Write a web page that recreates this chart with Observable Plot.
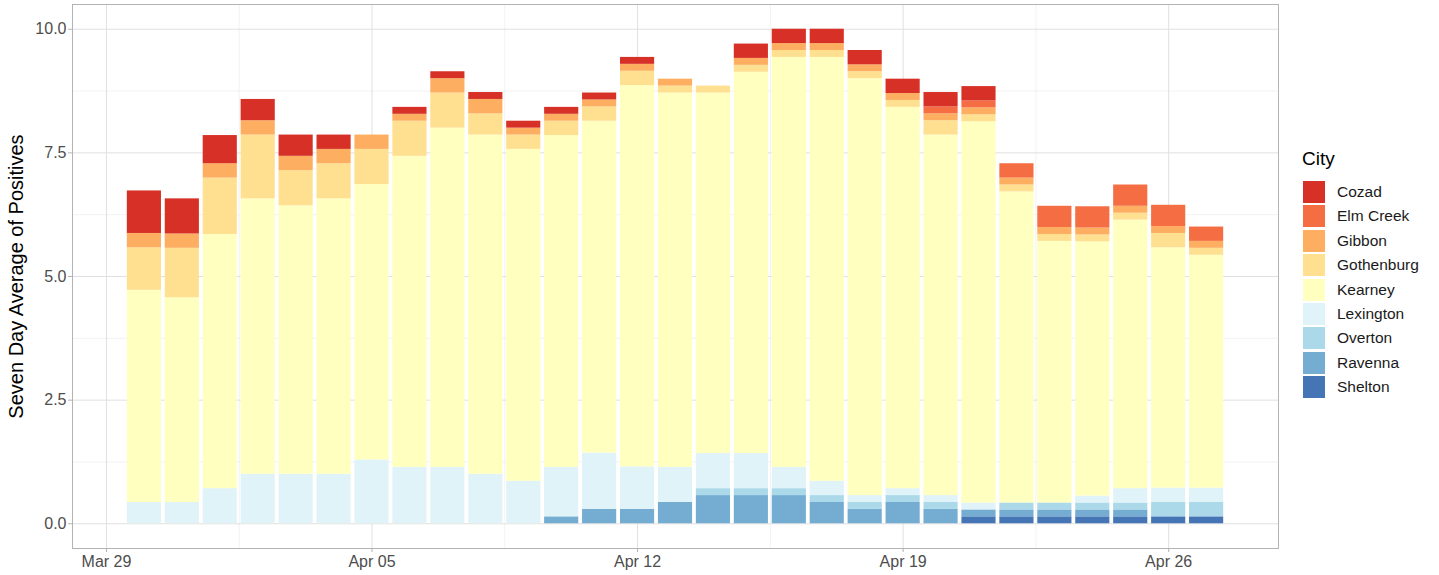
<!DOCTYPE html>
<html>
<head>
<meta charset="utf-8">
<script src="https://cdn.jsdelivr.net/npm/d3@7"></script>
<script src="https://cdn.jsdelivr.net/npm/@observablehq/plot@0.6"></script>
<style>
  body { margin: 0; background: #fff; font-family: "Liberation Sans", Arial, sans-serif; }
  #wrap { position: relative; width: 1439px; height: 575px; overflow: hidden; }
  #legend { position: absolute; left: 0; top: 0; }
  .lg-title { position: absolute; left: 1302px; top: 148px; font-size: 19px; color: #000; white-space: nowrap; }
  .lg-key { position: absolute; left: 1303px; width: 22px; height: 22px; }
  .lg-label { position: absolute; left: 1337px; font-size: 15.5px; line-height: 22px; color: #1a1a1a; white-space: nowrap; }
</style>
</head>
<body>
<div id="wrap"><div id="chart"></div><div id="legend"></div></div>
<script>
// ---- data (seven day averages) ----
const dates = ["2020-03-30","2020-03-31","2020-04-01","2020-04-02","2020-04-03","2020-04-04","2020-04-05",
  "2020-04-06","2020-04-07","2020-04-08","2020-04-09","2020-04-10","2020-04-11","2020-04-12",
  "2020-04-13","2020-04-14","2020-04-15","2020-04-16","2020-04-17","2020-04-18","2020-04-19",
  "2020-04-20","2020-04-21","2020-04-22","2020-04-23","2020-04-24","2020-04-25","2020-04-26","2020-04-27"];
const cities = ["Cozad","Elm Creek","Gibbon","Gothenburg","Kearney","Lexington","Overton","Ravenna","Shelton"];
const colors = ["#d73027","#f46d43","#fdae61","#fee090","#ffffbf","#e0f3f8","#abd9e9","#74add1","#4575b4"];

const cozad      = [0.86,0.71,0.57,0.43,0.43,0.29,0,0.14,0.14,0.14,0.14,0.14,0.14,0.14,0,0,0.29,0.29,0.29,0.29,0.29,0.29,0.29,0,0,0,0,0,0];
const elmCreek   = [0,0,0,0,0,0,0,0,0,0,0,0,0,0,0,0,0,0,0,0,0,0.14,0.14,0.29,0.43,0.43,0.43,0.43,0.29];
const gibbon     = [0.29,0.29,0.29,0.29,0.29,0.29,0.29,0.14,0.29,0.29,0.14,0.14,0.14,0.14,0.14,0,0.14,0.14,0.14,0.14,0.14,0.14,0.14,0.14,0.14,0.14,0.14,0.14,0.14];
const gothenburg = [0.86,1.0,1.14,1.29,0.71,0.71,0.71,0.71,0.71,0.43,0.29,0.29,0.29,0.29,0.14,0.14,0.14,0.14,0.14,0.14,0.14,0.29,0.14,0.14,0.14,0.14,0.14,0.29,0.14];
const kearney    = [4.29,4.14,5.14,5.57,5.43,5.57,5.57,6.29,6.86,6.86,6.71,6.71,6.71,7.71,7.57,7.29,7.71,8.29,8.57,8.43,7.71,7.29,7.71,6.29,5.29,5.14,5.43,4.86,4.71];
const lexington  = [0.43,0.43,0.71,1.0,1.0,1.0,1.29,1.14,1.14,1.0,0.86,1.0,1.14,0.86,0.71,0.71,0.71,0.43,0.29,0.14,0.14,0.14,0.14,0,0,0.14,0.29,0.29,0.29];
const overton    = [0,0,0,0,0,0,0,0,0,0,0,0,0,0,0,0.14,0.14,0.14,0.14,0.14,0.14,0.14,0,0.14,0.14,0.14,0.14,0.29,0.29];
const ravenna    = [0,0,0,0,0,0,0,0,0,0,0,0.14,0.29,0.29,0.43,0.57,0.57,0.57,0.43,0.29,0.43,0.29,0.14,0.14,0.14,0.14,0.14,0,0];
const shelton    = [0,0,0,0,0,0,0,0,0,0,0,0,0,0,0,0,0,0,0,0,0,0,0.14,0.14,0.14,0.14,0.14,0.14,0.14];

const xTicks = ["2020-03-29","2020-04-05","2020-04-12","2020-04-19","2020-04-26"];
const xTickLabels = ["Mar 29","Apr 05","Apr 12","Apr 19","Apr 26"];
const yTicks = [0, 2.5, 5, 7.5, 10];
const yTickLabels = ["0.0","2.5","5.0","7.5","10.0"];
const yTitle = "Seven Day Average of Positives";
const legendTitle = "City";

// ---- build table ----
const series = {"Cozad": cozad, "Elm Creek": elmCreek, "Gibbon": gibbon, "Gothenburg": gothenburg,
  "Kearney": kearney, "Lexington": lexington, "Overton": overton, "Ravenna": ravenna, "Shelton": shelton};
const DAY = 864e5;
const toDate = s => new Date(s + "T00:00:00Z");
const stackOrder = cities.slice().reverse(); // bottom to top
const rows = [];
dates.forEach((ds, i) => {
  const d = toDate(ds);
  for (const c of stackOrder) {
    const v = series[c][i];
    if (v > 0) rows.push({date: d, x1: new Date(+d - 0.45 * DAY), x2: new Date(+d + 0.45 * DAY), city: c, value: v});
  }
});

const lo = +toDate(dates[0]) - 0.45 * DAY, hi = +toDate(dates[dates.length - 1]) + 0.45 * DAY;
const pad = (hi - lo) * 0.05;
const xDomain = [new Date(lo - pad), new Date(hi + pad)];
const xTickDates = xTicks.map(toDate);
const xMinor = xTickDates.slice(0, -1).map((d, i) => new Date((+d + +xTickDates[i + 1]) / 2))
  .filter(d => d >= xDomain[0] && d <= xDomain[1]);
const yMinor = yTicks.slice(0, -1).map((v, i) => (v + yTicks[i + 1]) / 2);

const chart = Plot.plot({
  width: 1439, height: 575,
  marginLeft: 72, marginRight: 161, marginTop: 4, marginBottom: 27,
  style: {fontFamily: '"Liberation Sans", Arial, sans-serif', fontSize: "16px", background: "#fff", color: "#4d4d4d"},
  x: {type: "utc", domain: xDomain},
  y: {domain: [-0.5, 10.5]},
  color: {domain: cities, range: colors},
  marks: [
    Plot.ruleY(yMinor, {stroke: "#ececec", strokeWidth: 0.7}),
    Plot.ruleX(xMinor, {stroke: "#ececec", strokeWidth: 0.7}),
    Plot.ruleY(yTicks, {stroke: "#e0e0e0", strokeWidth: 1}),
    Plot.ruleX(xTickDates, {stroke: "#e0e0e0", strokeWidth: 1}),
    Plot.rectY(rows, Plot.stackY({x1: "x1", x2: "x2", y: "value", fill: "city", order: stackOrder})),
    Plot.frame({stroke: "#b3b3b3", strokeWidth: 1}),
    Plot.axisX({ticks: xTickDates, tickFormat: d => xTickLabels[xTickDates.findIndex(t => +t === +d)],
      tickSize: 4, tickPadding: 3, stroke: "#b3b3b3", fill: "#4d4d4d", label: null}),
    Plot.axisY({ticks: yTicks, tickFormat: v => yTickLabels[yTicks.indexOf(v)],
      tickSize: 4, tickPadding: 2, stroke: "#b3b3b3", fill: "#4d4d4d", label: null}),
    Plot.text([yTitle], {text: d => d, frameAnchor: "left", textAnchor: "middle", rotate: -90, dx: -56, fontSize: 20, fill: "#000"})
  ]
});
document.getElementById("chart").appendChild(chart);

// ---- legend ----
const lg = document.getElementById("legend");
const t = document.createElement("div");
t.className = "lg-title"; t.textContent = legendTitle; lg.appendChild(t);
const color = chart.scale("color");
cities.forEach((c, i) => {
  const top = 181 + i * 24.4;
  const k = document.createElement("div");
  k.className = "lg-key"; k.style.top = top + "px"; k.style.background = color.apply(c);
  lg.appendChild(k);
  const l = document.createElement("div");
  l.className = "lg-label"; l.style.top = top + "px"; l.textContent = c;
  lg.appendChild(l);
});
</script>
</body>
</html>
